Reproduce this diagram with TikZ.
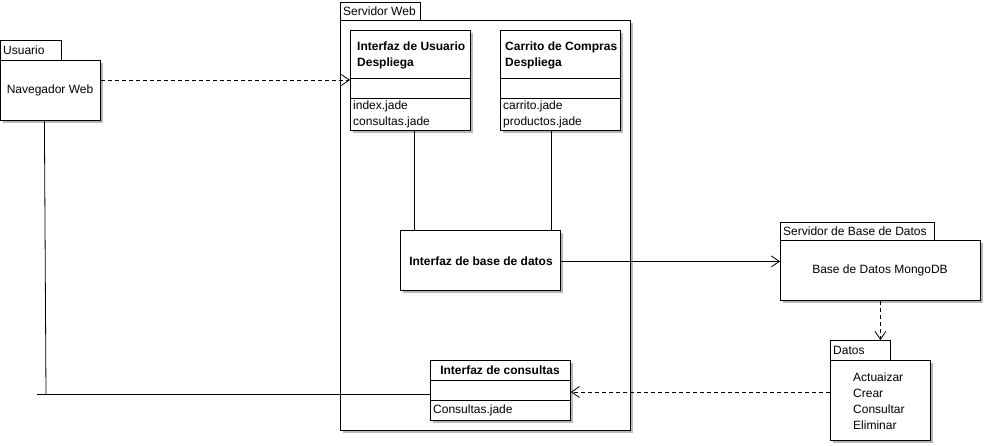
\documentclass[tikz,border=0pt]{standalone}
\usepackage{fontspec}
\setmainfont{Liberation Sans}
\usetikzlibrary{arrows.meta,shadows}
\begin{document}
\begin{tikzpicture}[x=1pt,y=-1pt,
  font=\fontsize{12}{16}\selectfont,
  box/.style={draw=black, fill=white, inner sep=0pt, anchor=north west, line width=0.8pt,
    drop shadow={shadow xshift=3pt, shadow yshift=-3pt, fill=black!28, opacity=1}},
  tab/.style={draw=black, fill=white, inner sep=0pt, anchor=north west, line width=0.8pt},
  txt/.style={inner sep=0pt, anchor=west, align=left},
  conn/.style={line width=0.8pt},
  dep/.style={line width=0.8pt, dashed, dash pattern=on 4pt off 3pt, -{Straight Barb[length=8pt,width=11pt]}},
  assoc/.style={line width=0.8pt, -{Straight Barb[length=8pt,width=11pt]}}]
\useasboundingbox (0,0) rectangle (985,445);

% Usuario
\node[box, minimum width=100pt, minimum height=60pt] (nav) at (0,60) {};
\node[tab, minimum width=61pt, minimum height=20pt] (utab) at (0,40) {};
\node[txt] (utxt) at (3,50) {Usuario};
\node[inner sep=0pt] (navtxt) at (50,90) {Navegador Web};

% Servidor Web
\node[box, minimum width=290pt, minimum height=410pt] (sw) at (340,20) {};
\node[tab, minimum width=80pt, minimum height=18pt] (swtab) at (340,2) {};
\node[txt] (swtxt) at (343,11) {Servidor Web};

% Interfaz de Usuario
\node[box, minimum width=120pt, minimum height=100pt] (ui) at (350,30) {};
\draw[conn] ([yshift=-48pt]ui.north west) -- ([yshift=-48pt]ui.north east);
\draw[conn] ([yshift=-68pt]ui.north west) -- ([yshift=-68pt]ui.north east);
\node[txt, font=\fontsize{12}{16}\selectfont\bfseries] (uititle) at (357,55) {Interfaz de Usuario\\Despliega};
\node[txt] (uiattr) at (353,114) {index.jade\\consultas.jade};

% Carrito de Compras
\node[box, minimum width=120pt, minimum height=100pt] (cc) at (500,30) {};
\draw[conn] ([yshift=-48pt]cc.north west) -- ([yshift=-48pt]cc.north east);
\draw[conn] ([yshift=-68pt]cc.north west) -- ([yshift=-68pt]cc.north east);
\node[txt, font=\fontsize{12}{16}\selectfont\bfseries] (cctitle) at (505,55) {Carrito de Compras\\Despliega};
\node[txt] (ccattr) at (503,114) {carrito.jade\\productos.jade};

% Interfaz de base de datos
\node[box, minimum width=160pt, minimum height=60pt, font=\fontsize{12}{16}\selectfont\bfseries] (bdi) at (400,230) {};
\node[inner sep=0pt, font=\fontsize{12}{16}\selectfont\bfseries] (bditxt) at (481,261) {Interfaz de base de datos};

% Interfaz de consultas
\node[box, minimum width=140pt, minimum height=60pt] (ic) at (430,360) {};
\draw[conn] ([yshift=-20pt]ic.north west) -- ([yshift=-20pt]ic.north east);
\draw[conn] ([yshift=-40pt]ic.north west) -- ([yshift=-40pt]ic.north east);
\node[inner sep=0pt, font=\fontsize{12}{16}\selectfont\bfseries] (ictitle) at (500,370) {Interfaz de consultas};
\node[txt] (icattr) at (433,410) {Consultas.jade};

% Servidor de Base de Datos
\node[box, minimum width=200pt, minimum height=60pt] (sbd) at (780,240) {};
\node[tab, minimum width=154pt, minimum height=18pt] (sbdtab) at (780,222) {};
\node[txt] (sbdtxt) at (783,231) {Servidor de Base de Datos};
\node[inner sep=0pt] (mongo) at (880,270) {Base de Datos MongoDB};

% Datos
\node[box, minimum width=100pt, minimum height=80pt] (dat) at (830,360) {};
\node[tab, minimum width=60pt, minimum height=20pt] (dtab) at (830,340) {};
\node[txt] (dtxt) at (833,350) {Datos};
\node[txt] (dops) at (853,401) {Actuaizar\\Crear\\Consultar\\Eliminar};

% Connectors
\draw[dep] ([yshift=-20pt]nav.north east) -- ([yshift=-50pt]ui.north west);
\draw[conn] ([xshift=64pt]ui.south west) -- ([xshift=14pt]bdi.north west);
\draw[conn] ([xshift=51pt]cc.south west) -- ([xshift=151pt]bdi.north west);
\draw[assoc] ([yshift=-1pt]bdi.east) -- ([yshift=-1pt]bdi.east -| sbd.west);
\draw[dep] (sbd.south) -- (sbd.south |- dtab.north);
\draw[dep] ([yshift=-32pt]dat.north west) -- ([yshift=-32pt]dat.north west -| ic.east);
\coordinate (corner) at (46,394);
\coordinate (lend) at (37,394);
\draw[conn] ([xshift=-6pt]nav.south) -- (corner);
\draw[conn] ([yshift=-34pt]ic.north west) -- (lend);
\end{tikzpicture}
\end{document}
